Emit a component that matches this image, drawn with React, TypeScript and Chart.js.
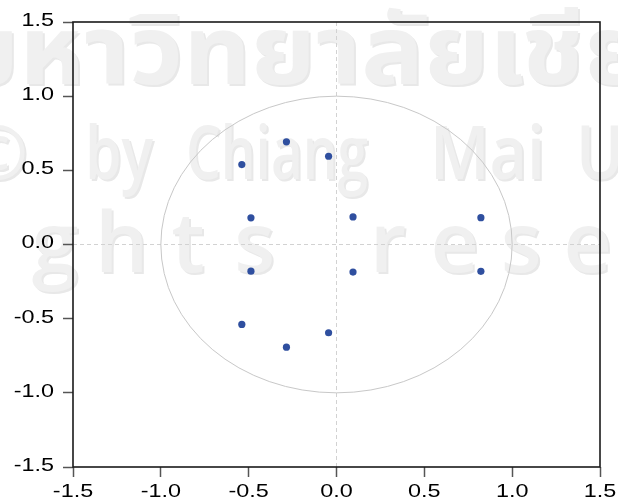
import { useEffect, useRef } from "react";
import { Chart, registerables } from "chart.js";

Chart.register(...registerables);

// Inverse roots (real part, imaginary part)
const rootRe = [-0.285, -0.285, -0.045, -0.045, -0.539, -0.539, -0.487, -0.487, 0.094, 0.094, 0.822, 0.822];
const rootIm = [0.692, -0.692, 0.595, -0.595, 0.539, -0.539, 0.18, -0.18, 0.186, -0.186, 0.181, -0.181];

const axisMin = -1.5;
const axisMax = 1.5;
const axisStep = 0.5;

const watermarkThai = "มหาวิทยาลัยเชียงใหม่";
const watermarkCopy = ["©", "by", "Chiang", "Mai", "University"];
const watermarkRights = "All rights reserved";

const refPlugin = {
  id: "refShapes",
  beforeDraw(chart: any) {
    const ctx = chart.ctx as CanvasRenderingContext2D;
    ctx.save();
    ctx.fillStyle = "#ffffff";
    ctx.fillRect(0, 0, chart.width, chart.height);
    const col = "#f0f0f0";
    const shadow = "#e8e8e8";
    const txt = (s: string, x: number, y: number, sx: number, align: CanvasTextAlign = "left") => {
      ctx.save();
      ctx.translate(x, y);
      ctx.scale(sx, 1);
      ctx.textAlign = align;
      ctx.fillStyle = shadow;
      ctx.fillText(s, 2 / sx, 2);
      ctx.fillStyle = col;
      ctx.fillText(s, 0, 0);
      ctx.restore();
    };
    ctx.textBaseline = "alphabetic";
    // Thai row: fit "หาวิทยาลัยเช" between x=25 and x=590
    ctx.font = 'bold 96px "Noto Sans Thai", "Noto Sans", sans-serif';
    const lead = ctx.measureText("ม").width;
    const core = ctx.measureText("หาวิทยาลัยเช").width;
    const sxT = 565 / core;
    txt(watermarkThai, 25 - lead * sxT - 6, 84, sxT);
    // copyright row
    ctx.font = '600 74px "Open Sans", sans-serif';
    const targets = [
      { x: 28, w: 60, align: "right" as CanvasTextAlign },
      { x: 85, w: 68, align: "left" as CanvasTextAlign },
      { x: 186, w: 182, align: "left" as CanvasTextAlign },
      { x: 430, w: 115, align: "left" as CanvasTextAlign },
      { x: 576, w: 0, align: "left" as CanvasTextAlign },
    ];
    const maiScale = 115 / ctx.measureText("Mai").width;
    watermarkCopy.forEach((w, i) => {
      const t = targets[i];
      const sx = t.w > 0 ? t.w / ctx.measureText(w).width : maiScale;
      txt(w, t.x, 179, sx, t.align);
    });
    // rights row
    ctx.font = '600 84px "Open Sans", sans-serif';
    const chars = watermarkRights.split("");
    chars.forEach((c, i) => {
      if (c !== " ") txt(c, -344.6 + i * 66.6, 272, 1, "center");
    });
    ctx.restore();
  },
  beforeDatasetsDraw(chart: any) {
    const ctx = chart.ctx as CanvasRenderingContext2D;
    const { left, right, top, bottom } = chart.chartArea;
    const xs = chart.scales.x;
    const ys = chart.scales.y;
    const x0 = xs.getPixelForValue(0);
    const y0 = ys.getPixelForValue(0);
    ctx.save();
    ctx.strokeStyle = "#d2d2d2";
    ctx.lineWidth = 1;
    ctx.setLineDash([4, 3]);
    ctx.beginPath();
    ctx.moveTo(x0, top);
    ctx.lineTo(x0, bottom);
    ctx.moveTo(left, y0);
    ctx.lineTo(right, y0);
    ctx.stroke();
    ctx.setLineDash([]);
    const rx = xs.getPixelForValue(1) - x0;
    const ry = y0 - ys.getPixelForValue(1);
    ctx.strokeStyle = "#c8c8c8";
    ctx.beginPath();
    ctx.ellipse(x0, y0, rx, ry, 0, 0, Math.PI * 2);
    ctx.stroke();
    ctx.restore();
  },
  afterDatasetsDraw(chart: any) {
    const ctx = chart.ctx as CanvasRenderingContext2D;
    const { left, right, top, bottom } = chart.chartArea;
    ctx.save();
    ctx.strokeStyle = "#1a1a1a";
    ctx.lineWidth = 1.6;
    ctx.strokeRect(left, top, right - left, bottom - top);
    // tick labels (wide Arial-like), taken from the library's scales
    ctx.font = '18px "Liberation Sans", Arial, sans-serif';
    ctx.fillStyle = "#000000";
    const sx = 1.3;
    const xs = chart.scales.x;
    const ys = chart.scales.y;
    xs.ticks.forEach((t: any) => {
      const px = xs.getPixelForValue(t.value);
      ctx.save();
      ctx.translate(px, 497);
      ctx.scale(sx, 1);
      ctx.textAlign = "center";
      ctx.textBaseline = "alphabetic";
      ctx.fillText(t.label, 0, 0);
      ctx.restore();
    });
    ys.ticks.forEach((t: any) => {
      const py = ys.getPixelForValue(t.value);
      ctx.save();
      ctx.translate(left - 19, py - 1);
      ctx.scale(sx, 1);
      ctx.textAlign = "right";
      ctx.textBaseline = "middle";
      ctx.fillText(t.label, 0, 0);
      ctx.restore();
    });
    ctx.restore();
  },
};

export default function App() {
  const ref = useRef<HTMLCanvasElement>(null);
  useEffect(() => {
    document.body.style.margin = "0";
    const canvas = ref.current!;
    const tickCommon = {
      display: false,
      stepSize: axisStep,
      callback: (v: any) => Number(v).toFixed(1),
    };
    const gridCommon = {
      drawOnChartArea: false,
      drawTicks: true,
      tickLength: 10,
      tickColor: "#555555",
      tickWidth: 1.5,
      color: "transparent",
    };
    const chart = new Chart(canvas, {
      type: "scatter",
      data: {
        datasets: [
          {
            data: rootRe.map((x, i) => ({ x, y: rootIm[i] })),
            backgroundColor: "#2f4f9f",
            borderColor: "#2f4f9f",
            pointRadius: 3.6,
            borderWidth: 0,
          },
        ],
      },
      options: {
        animation: false,
        responsive: false,
        events: [],
        layout: { padding: { top: 22, right: 18, left: 0, bottom: 0 } },
        plugins: { legend: { display: false }, tooltip: { enabled: false } },
        scales: {
          x: {
            type: "linear",
            min: axisMin,
            max: axisMax,
            ticks: tickCommon,
            grid: gridCommon,
            border: { display: false },
            afterFit: (s: any) => {
              s.height = 32;
            },
          },
          y: {
            type: "linear",
            min: axisMin,
            max: axisMax,
            ticks: tickCommon,
            grid: gridCommon,
            border: { display: false },
            afterFit: (s: any) => {
              s.width = 73;
            },
          },
        },
      },
      plugins: [refPlugin],
    } as any);
    return () => chart.destroy();
  }, []);
  return (
    <div style={{ width: 618, height: 499 }}>
      <canvas ref={ref} width={618} height={499} style={{ display: "block" }} />
    </div>
  );
}
